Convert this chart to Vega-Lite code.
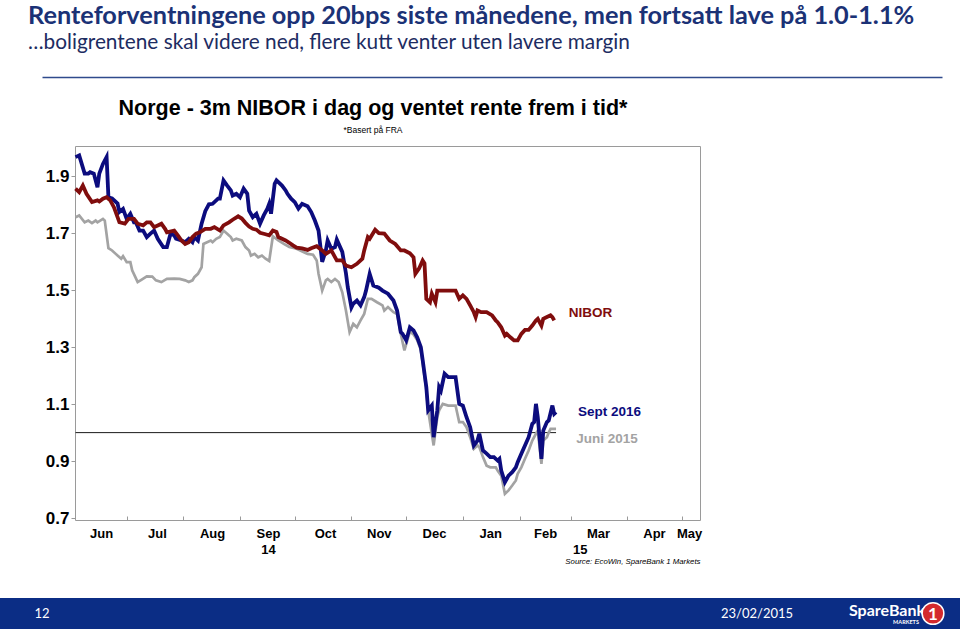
{
  "$schema": "https://vega.github.io/schema/vega-lite/v6.json",
  "background": "white",
  "padding": {"left": 0, "top": 3, "right": 0, "bottom": 0},
  "config": {
    "view": {"stroke": null},
    "font": "Liberation Sans",
    "axis": {"grid": false, "title": null}
  },
  "datasets": {
    "rates": [
      {"series": "Sept 2016", "date": "2014-06-03", "value": 1.968},
      {"series": "Sept 2016", "date": "2014-06-05", "value": 1.974},
      {"series": "Sept 2016", "date": "2014-06-08", "value": 1.910},
      {"series": "Sept 2016", "date": "2014-06-10", "value": 1.910},
      {"series": "Sept 2016", "date": "2014-06-11", "value": 1.915},
      {"series": "Sept 2016", "date": "2014-06-13", "value": 1.910},
      {"series": "Sept 2016", "date": "2014-06-15", "value": 1.862},
      {"series": "Sept 2016", "date": "2014-06-16", "value": 1.910},
      {"series": "Sept 2016", "date": "2014-06-18", "value": 1.944},
      {"series": "Sept 2016", "date": "2014-06-20", "value": 1.968},
      {"series": "Sept 2016", "date": "2014-06-21", "value": 1.827},
      {"series": "Sept 2016", "date": "2014-06-23", "value": 1.823},
      {"series": "Sept 2016", "date": "2014-06-26", "value": 1.805},
      {"series": "Sept 2016", "date": "2014-06-27", "value": 1.775},
      {"series": "Sept 2016", "date": "2014-06-29", "value": 1.786},
      {"series": "Sept 2016", "date": "2014-07-01", "value": 1.751},
      {"series": "Sept 2016", "date": "2014-07-03", "value": 1.769},
      {"series": "Sept 2016", "date": "2014-07-05", "value": 1.739},
      {"series": "Sept 2016", "date": "2014-07-06", "value": 1.739},
      {"series": "Sept 2016", "date": "2014-07-08", "value": 1.710},
      {"series": "Sept 2016", "date": "2014-07-10", "value": 1.710},
      {"series": "Sept 2016", "date": "2014-07-12", "value": 1.687},
      {"series": "Sept 2016", "date": "2014-07-14", "value": 1.699},
      {"series": "Sept 2016", "date": "2014-07-16", "value": 1.710},
      {"series": "Sept 2016", "date": "2014-07-18", "value": 1.681},
      {"series": "Sept 2016", "date": "2014-07-21", "value": 1.652},
      {"series": "Sept 2016", "date": "2014-07-23", "value": 1.652},
      {"series": "Sept 2016", "date": "2014-07-25", "value": 1.699},
      {"series": "Sept 2016", "date": "2014-07-27", "value": 1.693},
      {"series": "Sept 2016", "date": "2014-07-28", "value": 1.681},
      {"series": "Sept 2016", "date": "2014-07-31", "value": 1.675},
      {"series": "Sept 2016", "date": "2014-08-02", "value": 1.669},
      {"series": "Sept 2016", "date": "2014-08-04", "value": 1.681},
      {"series": "Sept 2016", "date": "2014-08-06", "value": 1.669},
      {"series": "Sept 2016", "date": "2014-08-07", "value": 1.687},
      {"series": "Sept 2016", "date": "2014-08-09", "value": 1.675},
      {"series": "Sept 2016", "date": "2014-08-11", "value": 1.734},
      {"series": "Sept 2016", "date": "2014-08-13", "value": 1.778},
      {"series": "Sept 2016", "date": "2014-08-15", "value": 1.802},
      {"series": "Sept 2016", "date": "2014-08-17", "value": 1.804},
      {"series": "Sept 2016", "date": "2014-08-20", "value": 1.822},
      {"series": "Sept 2016", "date": "2014-08-21", "value": 1.822},
      {"series": "Sept 2016", "date": "2014-08-23", "value": 1.886},
      {"series": "Sept 2016", "date": "2014-08-25", "value": 1.868},
      {"series": "Sept 2016", "date": "2014-08-27", "value": 1.851},
      {"series": "Sept 2016", "date": "2014-08-28", "value": 1.833},
      {"series": "Sept 2016", "date": "2014-08-30", "value": 1.839},
      {"series": "Sept 2016", "date": "2014-09-01", "value": 1.827},
      {"series": "Sept 2016", "date": "2014-09-03", "value": 1.857},
      {"series": "Sept 2016", "date": "2014-09-05", "value": 1.839},
      {"series": "Sept 2016", "date": "2014-09-06", "value": 1.780},
      {"series": "Sept 2016", "date": "2014-09-08", "value": 1.757},
      {"series": "Sept 2016", "date": "2014-09-10", "value": 1.769},
      {"series": "Sept 2016", "date": "2014-09-12", "value": 1.734},
      {"series": "Sept 2016", "date": "2014-09-14", "value": 1.763},
      {"series": "Sept 2016", "date": "2014-09-16", "value": 1.787},
      {"series": "Sept 2016", "date": "2014-09-17", "value": 1.804},
      {"series": "Sept 2016", "date": "2014-09-18", "value": 1.769},
      {"series": "Sept 2016", "date": "2014-09-20", "value": 1.874},
      {"series": "Sept 2016", "date": "2014-09-21", "value": 1.886},
      {"series": "Sept 2016", "date": "2014-09-24", "value": 1.868},
      {"series": "Sept 2016", "date": "2014-09-26", "value": 1.851},
      {"series": "Sept 2016", "date": "2014-09-27", "value": 1.839},
      {"series": "Sept 2016", "date": "2014-09-29", "value": 1.822},
      {"series": "Sept 2016", "date": "2014-10-01", "value": 1.810},
      {"series": "Sept 2016", "date": "2014-10-03", "value": 1.787},
      {"series": "Sept 2016", "date": "2014-10-05", "value": 1.804},
      {"series": "Sept 2016", "date": "2014-10-08", "value": 1.795},
      {"series": "Sept 2016", "date": "2014-10-10", "value": 1.775},
      {"series": "Sept 2016", "date": "2014-10-12", "value": 1.745},
      {"series": "Sept 2016", "date": "2014-10-14", "value": 1.710},
      {"series": "Sept 2016", "date": "2014-10-16", "value": 1.600},
      {"series": "Sept 2016", "date": "2014-10-18", "value": 1.640},
      {"series": "Sept 2016", "date": "2014-10-19", "value": 1.675},
      {"series": "Sept 2016", "date": "2014-10-21", "value": 1.646},
      {"series": "Sept 2016", "date": "2014-10-23", "value": 1.652},
      {"series": "Sept 2016", "date": "2014-10-24", "value": 1.678},
      {"series": "Sept 2016", "date": "2014-10-27", "value": 1.635},
      {"series": "Sept 2016", "date": "2014-10-29", "value": 1.560},
      {"series": "Sept 2016", "date": "2014-10-30", "value": 1.511},
      {"series": "Sept 2016", "date": "2014-11-01", "value": 1.440},
      {"series": "Sept 2016", "date": "2014-11-02", "value": 1.453},
      {"series": "Sept 2016", "date": "2014-11-04", "value": 1.464},
      {"series": "Sept 2016", "date": "2014-11-06", "value": 1.447},
      {"series": "Sept 2016", "date": "2014-11-08", "value": 1.476},
      {"series": "Sept 2016", "date": "2014-11-09", "value": 1.499},
      {"series": "Sept 2016", "date": "2014-11-11", "value": 1.558},
      {"series": "Sept 2016", "date": "2014-11-13", "value": 1.517},
      {"series": "Sept 2016", "date": "2014-11-16", "value": 1.509},
      {"series": "Sept 2016", "date": "2014-11-18", "value": 1.499},
      {"series": "Sept 2016", "date": "2014-11-21", "value": 1.488},
      {"series": "Sept 2016", "date": "2014-11-24", "value": 1.464},
      {"series": "Sept 2016", "date": "2014-11-26", "value": 1.429},
      {"series": "Sept 2016", "date": "2014-11-28", "value": 1.353},
      {"series": "Sept 2016", "date": "2014-11-29", "value": 1.347},
      {"series": "Sept 2016", "date": "2014-12-01", "value": 1.324},
      {"series": "Sept 2016", "date": "2014-12-03", "value": 1.370},
      {"series": "Sept 2016", "date": "2014-12-05", "value": 1.359},
      {"series": "Sept 2016", "date": "2014-12-07", "value": 1.335},
      {"series": "Sept 2016", "date": "2014-12-09", "value": 1.300},
      {"series": "Sept 2016", "date": "2014-12-10", "value": 1.255},
      {"series": "Sept 2016", "date": "2014-12-12", "value": 1.160},
      {"series": "Sept 2016", "date": "2014-12-13", "value": 1.078},
      {"series": "Sept 2016", "date": "2014-12-15", "value": 1.095},
      {"series": "Sept 2016", "date": "2014-12-16", "value": 0.984},
      {"series": "Sept 2016", "date": "2014-12-18", "value": 1.078},
      {"series": "Sept 2016", "date": "2014-12-19", "value": 1.160},
      {"series": "Sept 2016", "date": "2014-12-20", "value": 1.148},
      {"series": "Sept 2016", "date": "2014-12-22", "value": 1.207},
      {"series": "Sept 2016", "date": "2014-12-24", "value": 1.195},
      {"series": "Sept 2016", "date": "2014-12-28", "value": 1.195},
      {"series": "Sept 2016", "date": "2014-12-30", "value": 1.101},
      {"series": "Sept 2016", "date": "2015-01-01", "value": 1.095},
      {"series": "Sept 2016", "date": "2015-01-03", "value": 1.054},
      {"series": "Sept 2016", "date": "2015-01-05", "value": 1.019},
      {"series": "Sept 2016", "date": "2015-01-07", "value": 0.955},
      {"series": "Sept 2016", "date": "2015-01-09", "value": 0.972},
      {"series": "Sept 2016", "date": "2015-01-10", "value": 0.996},
      {"series": "Sept 2016", "date": "2015-01-12", "value": 0.937},
      {"series": "Sept 2016", "date": "2015-01-14", "value": 0.926},
      {"series": "Sept 2016", "date": "2015-01-16", "value": 0.914},
      {"series": "Sept 2016", "date": "2015-01-18", "value": 0.914},
      {"series": "Sept 2016", "date": "2015-01-20", "value": 0.902},
      {"series": "Sept 2016", "date": "2015-01-21", "value": 0.908},
      {"series": "Sept 2016", "date": "2015-01-22", "value": 0.867},
      {"series": "Sept 2016", "date": "2015-01-24", "value": 0.826},
      {"series": "Sept 2016", "date": "2015-01-26", "value": 0.849},
      {"series": "Sept 2016", "date": "2015-01-28", "value": 0.861},
      {"series": "Sept 2016", "date": "2015-01-30", "value": 0.878},
      {"series": "Sept 2016", "date": "2015-01-31", "value": 0.896},
      {"series": "Sept 2016", "date": "2015-02-02", "value": 0.926},
      {"series": "Sept 2016", "date": "2015-02-04", "value": 0.955},
      {"series": "Sept 2016", "date": "2015-02-06", "value": 0.984},
      {"series": "Sept 2016", "date": "2015-02-08", "value": 1.031},
      {"series": "Sept 2016", "date": "2015-02-09", "value": 1.037},
      {"series": "Sept 2016", "date": "2015-02-10", "value": 1.101},
      {"series": "Sept 2016", "date": "2015-02-11", "value": 1.054},
      {"series": "Sept 2016", "date": "2015-02-13", "value": 0.908},
      {"series": "Sept 2016", "date": "2015-02-14", "value": 1.007},
      {"series": "Sept 2016", "date": "2015-02-16", "value": 1.037},
      {"series": "Sept 2016", "date": "2015-02-17", "value": 1.043},
      {"series": "Sept 2016", "date": "2015-02-19", "value": 1.095},
      {"series": "Sept 2016", "date": "2015-02-20", "value": 1.066},
      {"series": "Sept 2016", "date": "2015-02-21", "value": 1.072},

      {"series": "Juni 2015", "date": "2014-06-03", "value": 1.757},
      {"series": "Juni 2015", "date": "2014-06-05", "value": 1.763},
      {"series": "Juni 2015", "date": "2014-06-08", "value": 1.739},
      {"series": "Juni 2015", "date": "2014-06-10", "value": 1.745},
      {"series": "Juni 2015", "date": "2014-06-12", "value": 1.736},
      {"series": "Juni 2015", "date": "2014-06-14", "value": 1.745},
      {"series": "Juni 2015", "date": "2014-06-15", "value": 1.739},
      {"series": "Juni 2015", "date": "2014-06-18", "value": 1.751},
      {"series": "Juni 2015", "date": "2014-06-19", "value": 1.745},
      {"series": "Juni 2015", "date": "2014-06-21", "value": 1.648},
      {"series": "Juni 2015", "date": "2014-06-23", "value": 1.640},
      {"series": "Juni 2015", "date": "2014-06-25", "value": 1.628},
      {"series": "Juni 2015", "date": "2014-06-26", "value": 1.622},
      {"series": "Juni 2015", "date": "2014-06-28", "value": 1.611},
      {"series": "Juni 2015", "date": "2014-06-29", "value": 1.620},
      {"series": "Juni 2015", "date": "2014-07-01", "value": 1.599},
      {"series": "Juni 2015", "date": "2014-07-03", "value": 1.599},
      {"series": "Juni 2015", "date": "2014-07-04", "value": 1.570},
      {"series": "Juni 2015", "date": "2014-07-06", "value": 1.543},
      {"series": "Juni 2015", "date": "2014-07-07", "value": 1.529},
      {"series": "Juni 2015", "date": "2014-07-09", "value": 1.537},
      {"series": "Juni 2015", "date": "2014-07-12", "value": 1.549},
      {"series": "Juni 2015", "date": "2014-07-15", "value": 1.548},
      {"series": "Juni 2015", "date": "2014-07-17", "value": 1.535},
      {"series": "Juni 2015", "date": "2014-07-20", "value": 1.529},
      {"series": "Juni 2015", "date": "2014-07-23", "value": 1.540},
      {"series": "Juni 2015", "date": "2014-07-27", "value": 1.541},
      {"series": "Juni 2015", "date": "2014-07-30", "value": 1.540},
      {"series": "Juni 2015", "date": "2014-08-02", "value": 1.535},
      {"series": "Juni 2015", "date": "2014-08-04", "value": 1.529},
      {"series": "Juni 2015", "date": "2014-08-06", "value": 1.535},
      {"series": "Juni 2015", "date": "2014-08-07", "value": 1.546},
      {"series": "Juni 2015", "date": "2014-08-09", "value": 1.558},
      {"series": "Juni 2015", "date": "2014-08-11", "value": 1.581},
      {"series": "Juni 2015", "date": "2014-08-12", "value": 1.663},
      {"series": "Juni 2015", "date": "2014-08-14", "value": 1.669},
      {"series": "Juni 2015", "date": "2014-08-16", "value": 1.675},
      {"series": "Juni 2015", "date": "2014-08-17", "value": 1.669},
      {"series": "Juni 2015", "date": "2014-08-19", "value": 1.681},
      {"series": "Juni 2015", "date": "2014-08-21", "value": 1.687},
      {"series": "Juni 2015", "date": "2014-08-23", "value": 1.710},
      {"series": "Juni 2015", "date": "2014-08-25", "value": 1.699},
      {"series": "Juni 2015", "date": "2014-08-27", "value": 1.687},
      {"series": "Juni 2015", "date": "2014-08-28", "value": 1.675},
      {"series": "Juni 2015", "date": "2014-08-30", "value": 1.681},
      {"series": "Juni 2015", "date": "2014-09-02", "value": 1.675},
      {"series": "Juni 2015", "date": "2014-09-04", "value": 1.652},
      {"series": "Juni 2015", "date": "2014-09-06", "value": 1.640},
      {"series": "Juni 2015", "date": "2014-09-07", "value": 1.622},
      {"series": "Juni 2015", "date": "2014-09-09", "value": 1.628},
      {"series": "Juni 2015", "date": "2014-09-11", "value": 1.616},
      {"series": "Juni 2015", "date": "2014-09-13", "value": 1.622},
      {"series": "Juni 2015", "date": "2014-09-15", "value": 1.611},
      {"series": "Juni 2015", "date": "2014-09-17", "value": 1.603},
      {"series": "Juni 2015", "date": "2014-09-19", "value": 1.690},
      {"series": "Juni 2015", "date": "2014-09-22", "value": 1.675},
      {"series": "Juni 2015", "date": "2014-09-25", "value": 1.663},
      {"series": "Juni 2015", "date": "2014-09-28", "value": 1.652},
      {"series": "Juni 2015", "date": "2014-10-02", "value": 1.646},
      {"series": "Juni 2015", "date": "2014-10-06", "value": 1.634},
      {"series": "Juni 2015", "date": "2014-10-08", "value": 1.628},
      {"series": "Juni 2015", "date": "2014-10-11", "value": 1.625},
      {"series": "Juni 2015", "date": "2014-10-13", "value": 1.605},
      {"series": "Juni 2015", "date": "2014-10-14", "value": 1.558},
      {"series": "Juni 2015", "date": "2014-10-16", "value": 1.499},
      {"series": "Juni 2015", "date": "2014-10-18", "value": 1.535},
      {"series": "Juni 2015", "date": "2014-10-19", "value": 1.540},
      {"series": "Juni 2015", "date": "2014-10-21", "value": 1.529},
      {"series": "Juni 2015", "date": "2014-10-23", "value": 1.540},
      {"series": "Juni 2015", "date": "2014-10-25", "value": 1.529},
      {"series": "Juni 2015", "date": "2014-10-27", "value": 1.493},
      {"series": "Juni 2015", "date": "2014-10-29", "value": 1.429},
      {"series": "Juni 2015", "date": "2014-10-31", "value": 1.353},
      {"series": "Juni 2015", "date": "2014-11-02", "value": 1.382},
      {"series": "Juni 2015", "date": "2014-11-04", "value": 1.370},
      {"series": "Juni 2015", "date": "2014-11-06", "value": 1.394},
      {"series": "Juni 2015", "date": "2014-11-08", "value": 1.417},
      {"series": "Juni 2015", "date": "2014-11-10", "value": 1.470},
      {"series": "Juni 2015", "date": "2014-11-12", "value": 1.470},
      {"series": "Juni 2015", "date": "2014-11-15", "value": 1.458},
      {"series": "Juni 2015", "date": "2014-11-18", "value": 1.447},
      {"series": "Juni 2015", "date": "2014-11-19", "value": 1.429},
      {"series": "Juni 2015", "date": "2014-11-21", "value": 1.441},
      {"series": "Juni 2015", "date": "2014-11-24", "value": 1.423},
      {"series": "Juni 2015", "date": "2014-11-26", "value": 1.417},
      {"series": "Juni 2015", "date": "2014-11-28", "value": 1.347},
      {"series": "Juni 2015", "date": "2014-11-30", "value": 1.289},
      {"series": "Juni 2015", "date": "2014-12-03", "value": 1.355},
      {"series": "Juni 2015", "date": "2014-12-05", "value": 1.345},
      {"series": "Juni 2015", "date": "2014-12-07", "value": 1.325},
      {"series": "Juni 2015", "date": "2014-12-09", "value": 1.290},
      {"series": "Juni 2015", "date": "2014-12-10", "value": 1.245},
      {"series": "Juni 2015", "date": "2014-12-12", "value": 1.150},
      {"series": "Juni 2015", "date": "2014-12-13", "value": 1.078},
      {"series": "Juni 2015", "date": "2014-12-16", "value": 0.955},
      {"series": "Juni 2015", "date": "2014-12-18", "value": 1.054},
      {"series": "Juni 2015", "date": "2014-12-19", "value": 1.078},
      {"series": "Juni 2015", "date": "2014-12-21", "value": 1.101},
      {"series": "Juni 2015", "date": "2014-12-24", "value": 1.095},
      {"series": "Juni 2015", "date": "2014-12-28", "value": 1.095},
      {"series": "Juni 2015", "date": "2014-12-30", "value": 1.037},
      {"series": "Juni 2015", "date": "2015-01-01", "value": 1.037},
      {"series": "Juni 2015", "date": "2015-01-03", "value": 1.019},
      {"series": "Juni 2015", "date": "2015-01-05", "value": 0.984},
      {"series": "Juni 2015", "date": "2015-01-07", "value": 0.943},
      {"series": "Juni 2015", "date": "2015-01-09", "value": 0.955},
      {"series": "Juni 2015", "date": "2015-01-10", "value": 0.949},
      {"series": "Juni 2015", "date": "2015-01-12", "value": 0.914},
      {"series": "Juni 2015", "date": "2015-01-14", "value": 0.884},
      {"series": "Juni 2015", "date": "2015-01-16", "value": 0.878},
      {"series": "Juni 2015", "date": "2015-01-19", "value": 0.878},
      {"series": "Juni 2015", "date": "2015-01-20", "value": 0.867},
      {"series": "Juni 2015", "date": "2015-01-22", "value": 0.849},
      {"series": "Juni 2015", "date": "2015-01-24", "value": 0.785},
      {"series": "Juni 2015", "date": "2015-01-26", "value": 0.797},
      {"series": "Juni 2015", "date": "2015-01-28", "value": 0.814},
      {"series": "Juni 2015", "date": "2015-01-30", "value": 0.832},
      {"series": "Juni 2015", "date": "2015-01-31", "value": 0.855},
      {"series": "Juni 2015", "date": "2015-02-02", "value": 0.878},
      {"series": "Juni 2015", "date": "2015-02-04", "value": 0.908},
      {"series": "Juni 2015", "date": "2015-02-06", "value": 0.937},
      {"series": "Juni 2015", "date": "2015-02-08", "value": 0.972},
      {"series": "Juni 2015", "date": "2015-02-10", "value": 0.996},
      {"series": "Juni 2015", "date": "2015-02-11", "value": 1.007},
      {"series": "Juni 2015", "date": "2015-02-13", "value": 0.890},
      {"series": "Juni 2015", "date": "2015-02-14", "value": 0.972},
      {"series": "Juni 2015", "date": "2015-02-16", "value": 0.984},
      {"series": "Juni 2015", "date": "2015-02-17", "value": 1.000},
      {"series": "Juni 2015", "date": "2015-02-18", "value": 1.013},
      {"series": "Juni 2015", "date": "2015-02-21", "value": 1.013},

      {"series": "NIBOR", "date": "2014-06-03", "value": 1.857},
      {"series": "NIBOR", "date": "2014-06-05", "value": 1.845},
      {"series": "NIBOR", "date": "2014-06-07", "value": 1.868},
      {"series": "NIBOR", "date": "2014-06-09", "value": 1.839},
      {"series": "NIBOR", "date": "2014-06-12", "value": 1.810},
      {"series": "NIBOR", "date": "2014-06-15", "value": 1.816},
      {"series": "NIBOR", "date": "2014-06-16", "value": 1.812},
      {"series": "NIBOR", "date": "2014-06-18", "value": 1.822},
      {"series": "NIBOR", "date": "2014-06-20", "value": 1.827},
      {"series": "NIBOR", "date": "2014-06-22", "value": 1.816},
      {"series": "NIBOR", "date": "2014-06-24", "value": 1.792},
      {"series": "NIBOR", "date": "2014-06-26", "value": 1.757},
      {"series": "NIBOR", "date": "2014-06-27", "value": 1.739},
      {"series": "NIBOR", "date": "2014-06-30", "value": 1.734},
      {"series": "NIBOR", "date": "2014-07-02", "value": 1.751},
      {"series": "NIBOR", "date": "2014-07-05", "value": 1.751},
      {"series": "NIBOR", "date": "2014-07-07", "value": 1.734},
      {"series": "NIBOR", "date": "2014-07-10", "value": 1.728},
      {"series": "NIBOR", "date": "2014-07-12", "value": 1.739},
      {"series": "NIBOR", "date": "2014-07-14", "value": 1.739},
      {"series": "NIBOR", "date": "2014-07-16", "value": 1.722},
      {"series": "NIBOR", "date": "2014-07-18", "value": 1.728},
      {"series": "NIBOR", "date": "2014-07-20", "value": 1.734},
      {"series": "NIBOR", "date": "2014-07-22", "value": 1.716},
      {"series": "NIBOR", "date": "2014-07-23", "value": 1.704},
      {"series": "NIBOR", "date": "2014-07-27", "value": 1.710},
      {"series": "NIBOR", "date": "2014-07-29", "value": 1.693},
      {"series": "NIBOR", "date": "2014-07-31", "value": 1.675},
      {"series": "NIBOR", "date": "2014-08-02", "value": 1.663},
      {"series": "NIBOR", "date": "2014-08-04", "value": 1.669},
      {"series": "NIBOR", "date": "2014-08-06", "value": 1.687},
      {"series": "NIBOR", "date": "2014-08-08", "value": 1.699},
      {"series": "NIBOR", "date": "2014-08-10", "value": 1.704},
      {"series": "NIBOR", "date": "2014-08-13", "value": 1.716},
      {"series": "NIBOR", "date": "2014-08-16", "value": 1.716},
      {"series": "NIBOR", "date": "2014-08-18", "value": 1.722},
      {"series": "NIBOR", "date": "2014-08-21", "value": 1.710},
      {"series": "NIBOR", "date": "2014-08-23", "value": 1.728},
      {"series": "NIBOR", "date": "2014-08-26", "value": 1.739},
      {"series": "NIBOR", "date": "2014-08-28", "value": 1.748},
      {"series": "NIBOR", "date": "2014-08-31", "value": 1.760},
      {"series": "NIBOR", "date": "2014-09-02", "value": 1.752},
      {"series": "NIBOR", "date": "2014-09-04", "value": 1.737},
      {"series": "NIBOR", "date": "2014-09-06", "value": 1.724},
      {"series": "NIBOR", "date": "2014-09-08", "value": 1.716},
      {"series": "NIBOR", "date": "2014-09-10", "value": 1.713},
      {"series": "NIBOR", "date": "2014-09-12", "value": 1.702},
      {"series": "NIBOR", "date": "2014-09-15", "value": 1.697},
      {"series": "NIBOR", "date": "2014-09-17", "value": 1.693},
      {"series": "NIBOR", "date": "2014-09-19", "value": 1.710},
      {"series": "NIBOR", "date": "2014-09-21", "value": 1.705},
      {"series": "NIBOR", "date": "2014-09-22", "value": 1.687},
      {"series": "NIBOR", "date": "2014-09-26", "value": 1.675},
      {"series": "NIBOR", "date": "2014-09-28", "value": 1.667},
      {"series": "NIBOR", "date": "2014-09-30", "value": 1.658},
      {"series": "NIBOR", "date": "2014-10-02", "value": 1.650},
      {"series": "NIBOR", "date": "2014-10-05", "value": 1.647},
      {"series": "NIBOR", "date": "2014-10-08", "value": 1.642},
      {"series": "NIBOR", "date": "2014-10-10", "value": 1.648},
      {"series": "NIBOR", "date": "2014-10-13", "value": 1.655},
      {"series": "NIBOR", "date": "2014-10-16", "value": 1.640},
      {"series": "NIBOR", "date": "2014-10-18", "value": 1.628},
      {"series": "NIBOR", "date": "2014-10-21", "value": 1.640},
      {"series": "NIBOR", "date": "2014-10-24", "value": 1.605},
      {"series": "NIBOR", "date": "2014-10-27", "value": 1.605},
      {"series": "NIBOR", "date": "2014-10-29", "value": 1.587},
      {"series": "NIBOR", "date": "2014-11-01", "value": 1.581},
      {"series": "NIBOR", "date": "2014-11-04", "value": 1.593},
      {"series": "NIBOR", "date": "2014-11-07", "value": 1.611},
      {"series": "NIBOR", "date": "2014-11-08", "value": 1.640},
      {"series": "NIBOR", "date": "2014-11-10", "value": 1.687},
      {"series": "NIBOR", "date": "2014-11-11", "value": 1.681},
      {"series": "NIBOR", "date": "2014-11-14", "value": 1.713},
      {"series": "NIBOR", "date": "2014-11-16", "value": 1.701},
      {"series": "NIBOR", "date": "2014-11-19", "value": 1.699},
      {"series": "NIBOR", "date": "2014-11-22", "value": 1.675},
      {"series": "NIBOR", "date": "2014-11-25", "value": 1.663},
      {"series": "NIBOR", "date": "2014-11-28", "value": 1.640},
      {"series": "NIBOR", "date": "2014-11-30", "value": 1.640},
      {"series": "NIBOR", "date": "2014-12-03", "value": 1.630},
      {"series": "NIBOR", "date": "2014-12-05", "value": 1.616},
      {"series": "NIBOR", "date": "2014-12-06", "value": 1.558},
      {"series": "NIBOR", "date": "2014-12-08", "value": 1.576},
      {"series": "NIBOR", "date": "2014-12-10", "value": 1.605},
      {"series": "NIBOR", "date": "2014-12-11", "value": 1.595},
      {"series": "NIBOR", "date": "2014-12-12", "value": 1.470},
      {"series": "NIBOR", "date": "2014-12-14", "value": 1.458},
      {"series": "NIBOR", "date": "2014-12-15", "value": 1.488},
      {"series": "NIBOR", "date": "2014-12-17", "value": 1.458},
      {"series": "NIBOR", "date": "2014-12-18", "value": 1.499},
      {"series": "NIBOR", "date": "2014-12-21", "value": 1.499},
      {"series": "NIBOR", "date": "2014-12-25", "value": 1.499},
      {"series": "NIBOR", "date": "2014-12-28", "value": 1.499},
      {"series": "NIBOR", "date": "2014-12-30", "value": 1.470},
      {"series": "NIBOR", "date": "2015-01-01", "value": 1.482},
      {"series": "NIBOR", "date": "2015-01-03", "value": 1.470},
      {"series": "NIBOR", "date": "2015-01-05", "value": 1.447},
      {"series": "NIBOR", "date": "2015-01-07", "value": 1.423},
      {"series": "NIBOR", "date": "2015-01-08", "value": 1.406},
      {"series": "NIBOR", "date": "2015-01-09", "value": 1.429},
      {"series": "NIBOR", "date": "2015-01-11", "value": 1.423},
      {"series": "NIBOR", "date": "2015-01-14", "value": 1.423},
      {"series": "NIBOR", "date": "2015-01-17", "value": 1.412},
      {"series": "NIBOR", "date": "2015-01-19", "value": 1.394},
      {"series": "NIBOR", "date": "2015-01-20", "value": 1.388},
      {"series": "NIBOR", "date": "2015-01-22", "value": 1.370},
      {"series": "NIBOR", "date": "2015-01-24", "value": 1.341},
      {"series": "NIBOR", "date": "2015-01-25", "value": 1.347},
      {"series": "NIBOR", "date": "2015-01-27", "value": 1.335},
      {"series": "NIBOR", "date": "2015-01-29", "value": 1.324},
      {"series": "NIBOR", "date": "2015-01-31", "value": 1.324},
      {"series": "NIBOR", "date": "2015-02-02", "value": 1.347},
      {"series": "NIBOR", "date": "2015-02-04", "value": 1.361},
      {"series": "NIBOR", "date": "2015-02-06", "value": 1.361},
      {"series": "NIBOR", "date": "2015-02-08", "value": 1.376},
      {"series": "NIBOR", "date": "2015-02-10", "value": 1.394},
      {"series": "NIBOR", "date": "2015-02-11", "value": 1.400},
      {"series": "NIBOR", "date": "2015-02-13", "value": 1.376},
      {"series": "NIBOR", "date": "2015-02-14", "value": 1.400},
      {"series": "NIBOR", "date": "2015-02-16", "value": 1.406},
      {"series": "NIBOR", "date": "2015-02-18", "value": 1.412},
      {"series": "NIBOR", "date": "2015-02-19", "value": 1.406},
      {"series": "NIBOR", "date": "2015-02-20", "value": 1.394}
    ],
    "labels": [
      {"series": "NIBOR", "date": "2015-02-28", "value": 1.422, "label": "NIBOR"},
      {"series": "Sept 2016", "date": "2015-03-05", "value": 1.072, "label": "Sept 2016"},
      {"series": "Juni 2015", "date": "2015-03-04", "value": 0.979, "label": "Juni 2015"}
    ],
    "level": [
      {"start": "2014-06-03", "end": "2015-02-21", "level": 1.0}
    ]
  },
  "vconcat": [
    {
      "width": 942,
      "height": 0,
      "title": {
        "text": "Renteforventningene opp 20bps siste månedene, men fortsatt lave på 1.0-1.1%",
        "subtitle": "…boligrentene skal videre ned, flere kutt venter uten lavere margin",
        "anchor": "start",
        "frame": "group",
        "dx": 28,
        "offset": -5,
        "font": "Lato",
        "fontSize": 25.3,
        "fontWeight": "bold",
        "color": "#1b3276",
        "subtitleFont": "Lato",
        "subtitleFontSize": 20.8,
        "subtitleColor": "#1d2c62",
        "subtitlePadding": 4
      },
      "data": {"values": [{"v": 0}]},
      "mark": {"type": "text", "text": ""},
      "encoding": {
        "x": {
          "field": "v",
          "type": "quantitative",
          "scale": {"domain": [0, 1], "range": [42, 942]},
          "axis": {"orient": "bottom", "offset": 9, "labels": false, "ticks": false, "grid": false, "domain": true, "domainColor": "#2f4a8c", "domainWidth": 1.3, "title": null}
        }
      }
    },
    {
      "width": 700,
      "height": 374,
      "title": {
        "text": "Norge - 3m NIBOR i dag og ventet rente frem i tid*",
        "subtitle": "*Basert på FRA",
        "anchor": "middle",
        "frame": "group",
        "dx": 23,
        "offset": 12,
        "font": "Liberation Sans",
        "fontSize": 21.5,
        "fontWeight": "bold",
        "color": "#000000",
        "subtitleFont": "Liberation Sans",
        "subtitleFontSize": 8.5,
        "subtitleColor": "#000000",
        "subtitlePadding": 6
      },
      "resolve": {"axis": {"x": "independent", "y": "independent"}},
      "layer": [
        {
          "data": {"name": "level"},
          "mark": {"type": "rule", "color": "#1a1a1a", "strokeWidth": 1},
          "encoding": {
            "x": {
              "field": "start",
              "type": "temporal",
              "scale": {
                "domain": [{"year": 2014, "month": 6, "date": 2, "hours": 17}, {"year": 2015, "month": 5, "date": 10, "hours": 19}],
                "range": [75, 700]
              },
              "axis": {
                "orient": "bottom",
                "values": [
                  {"year": 2014, "month": 7, "date": 1}, {"year": 2014, "month": 8, "date": 1}, {"year": 2014, "month": 9, "date": 1},
                  {"year": 2014, "month": 10, "date": 1}, {"year": 2014, "month": 11, "date": 1}, {"year": 2014, "month": 12, "date": 1},
                  {"year": 2015, "month": 1, "date": 1}, {"year": 2015, "month": 2, "date": 1}, {"year": 2015, "month": 3, "date": 1},
                  {"year": 2015, "month": 4, "date": 1}, {"year": 2015, "month": 5, "date": 1}
                ],
                "labels": true,
                "labelExpr": "month(datum.value) == 2 ? '15' : ''",
                "labelOffset": 9,
                "labelPadding": 27,
                "labelFont": "Liberation Sans",
                "labelFontSize": 13,
                "labelFontWeight": "bold",
                "labelColor": "#000000",
                "labelFlush": false,
                "labelOverlap": false,
                "labelBound": false,
                "ticks": true,
                "tickSize": -4,
                "tickColor": "#9a9a9a",
                "domain": true,
                "domainColor": "#9a9a9a",
                "grid": false,
                "title": null
              }
            },
            "x2": {"field": "end"},
            "y": {
              "field": "level",
              "type": "quantitative",
              "scale": {"domain": [0.693, 2.007], "nice": false, "zero": false},
              "axis": {
                "orient": "left",
                "offset": -75,
                "values": [0.7, 0.9, 1.1, 1.3, 1.5, 1.7, 1.9],
                "format": ".1f",
                "labelFont": "Liberation Sans",
                "labelFontSize": 17,
                "labelFontWeight": "bold",
                "labelColor": "#000000",
                "labelPadding": 2,
                "labelFlush": false,
                "tickSize": 4,
                "tickColor": "#9a9a9a",
                "domainColor": "#9a9a9a",
                "grid": false,
                "title": null
              }
            }
          }
        },
        {
          "data": {"name": "rates"},
          "transform": [{"filter": "datum.series === 'Juni 2015'"}],
          "mark": {"type": "line", "strokeWidth": 2.7},
          "encoding": {
            "x": {
              "field": "date",
              "type": "temporal",
              "axis": {
                "orient": "bottom",
                "values": [
                  {"year": 2014, "month": 6, "date": 17}, {"year": 2014, "month": 7, "date": 17, "hours": 14},
                  {"year": 2014, "month": 8, "date": 16, "hours": 17}, {"year": 2014, "month": 9, "date": 16, "hours": 8},
                  {"year": 2014, "month": 10, "date": 17, "hours": 13}, {"year": 2014, "month": 11, "date": 16},
                  {"year": 2014, "month": 12, "date": 16, "hours": 5}, {"year": 2015, "month": 1, "date": 15, "hours": 22},
                  {"year": 2015, "month": 2, "date": 15}, {"year": 2015, "month": 3, "date": 16},
                  {"year": 2015, "month": 4, "date": 15, "hours": 14}, {"year": 2015, "month": 5, "date": 4, "hours": 19}
                ],
                "labelExpr": "month(datum.value) == 8 ? ['Sep', '14'] : timeFormat(datum.value, '%b')",
                "ticks": false,
                "domain": false,
                "grid": false,
                "labelFont": "Liberation Sans",
                "labelFontSize": 13,
                "labelFontWeight": "bold",
                "labelColor": "#000000",
                "labelPadding": 7,
                "labelLineHeight": 16,
                "labelFlush": false,
                "labelOverlap": false,
                "labelBound": false,
                "title": "Source: EcoWin, SpareBank 1 Markets",
                "titleAnchor": "end",
                "titleFont": "Liberation Sans",
                "titleFontSize": 7.8,
                "titleFontStyle": "italic",
                "titleFontWeight": "normal",
                "titleColor": "#000000",
                "titlePadding": 1
              }
            },
            "y": {
              "field": "value",
              "type": "quantitative",
              "axis": {"orient": "right", "labels": false, "ticks": false, "domain": true, "domainColor": "#9a9a9a", "grid": false, "title": null}
            },
            "color": {
              "field": "series",
              "type": "nominal",
              "scale": {"domain": ["Sept 2016", "Juni 2015", "NIBOR"], "range": ["#0c0c7e", "#a3a3a3", "#800d0d"]},
              "legend": null
            }
          }
        },
        {
          "data": {"name": "rates"},
          "transform": [{"filter": "datum.series === 'Sept 2016'"}],
          "mark": {"type": "line", "strokeWidth": 3.8},
          "encoding": {
            "x": {
              "field": "date",
              "type": "temporal",
              "axis": {"orient": "top", "labels": false, "ticks": false, "domain": true, "domainColor": "#9a9a9a", "grid": false, "title": null}
            },
            "y": {"field": "value", "type": "quantitative", "axis": null},
            "color": {"field": "series", "type": "nominal", "legend": null}
          }
        },
        {
          "data": {"name": "rates"},
          "transform": [{"filter": "datum.series === 'NIBOR'"}],
          "mark": {"type": "line", "strokeWidth": 3.8},
          "encoding": {
            "x": {"field": "date", "type": "temporal", "axis": null},
            "y": {"field": "value", "type": "quantitative", "axis": null},
            "color": {"field": "series", "type": "nominal", "legend": null}
          }
        },
        {
          "data": {"name": "labels"},
          "mark": {"type": "text", "align": "left", "baseline": "middle", "font": "Liberation Sans", "fontSize": 13.5, "fontWeight": "bold"},
          "encoding": {
            "x": {"field": "date", "type": "temporal", "axis": null},
            "y": {"field": "value", "type": "quantitative", "axis": null},
            "text": {"field": "label"},
            "color": {"field": "series", "type": "nominal", "legend": null}
          }
        }
      ]
    },
    {
      "width": 960,
      "height": 31,
      "view": {"fill": "#0b2d85", "stroke": null},
      "resolve": {"scale": {"x": "independent"}},
      "layer": [
        {
          "data": {"values": [{"slot": "page", "text": "12"}, {"slot": "date", "text": "23/02/2015"}]},
          "mark": {"type": "text", "font": "Lato", "fontSize": 13, "color": "#ffffff", "align": "center", "baseline": "middle"},
          "encoding": {
            "x": {"field": "slot", "type": "nominal", "scale": {"type": "point", "domain": ["page", "date"], "range": [42, 757], "padding": 0}, "axis": null},
            "text": {"field": "text"}
          }
        },
        {
          "data": {"values": [{"slot": "brand", "text": "SpareBank", "sub": "MARKETS"}, {"slot": "logo", "text": "1", "sub": ""}]},
          "encoding": {
            "x": {"field": "slot", "type": "nominal", "scale": {"type": "point", "domain": ["brand", "logo"], "range": [887, 933], "padding": 0}, "axis": null}
          },
          "layer": [
            {
              "transform": [{"filter": "datum.slot === 'brand'"}],
              "mark": {"type": "text", "font": "Lato", "fontSize": 16, "fontWeight": "bold", "color": "#ffffff", "align": "center", "baseline": "middle", "dy": -3},
              "encoding": {"text": {"field": "text"}}
            },
            {
              "transform": [{"filter": "datum.slot === 'brand'"}],
              "mark": {"type": "text", "font": "Lato", "fontSize": 5.5, "fontWeight": "bold", "color": "#ffffff", "align": "center", "baseline": "middle", "dx": 19, "dy": 8},
              "encoding": {"text": {"field": "sub"}}
            },
            {
              "transform": [{"filter": "datum.slot === 'logo'"}],
              "mark": {"type": "point", "shape": "circle", "filled": true, "size": 470, "color": "#d42a2e", "stroke": "#ffffff", "strokeWidth": 1.5, "opacity": 1}
            },
            {
              "transform": [{"filter": "datum.slot === 'logo'"}],
              "mark": {"type": "text", "font": "Lato", "fontSize": 17, "fontWeight": "bold", "color": "#ffffff", "align": "center", "baseline": "middle", "dy": 1},
              "encoding": {"text": {"field": "text"}}
            }
          ]
        }
      ]
    }
  ],
  "spacing": 78,
  "bounds": "flush"
}
